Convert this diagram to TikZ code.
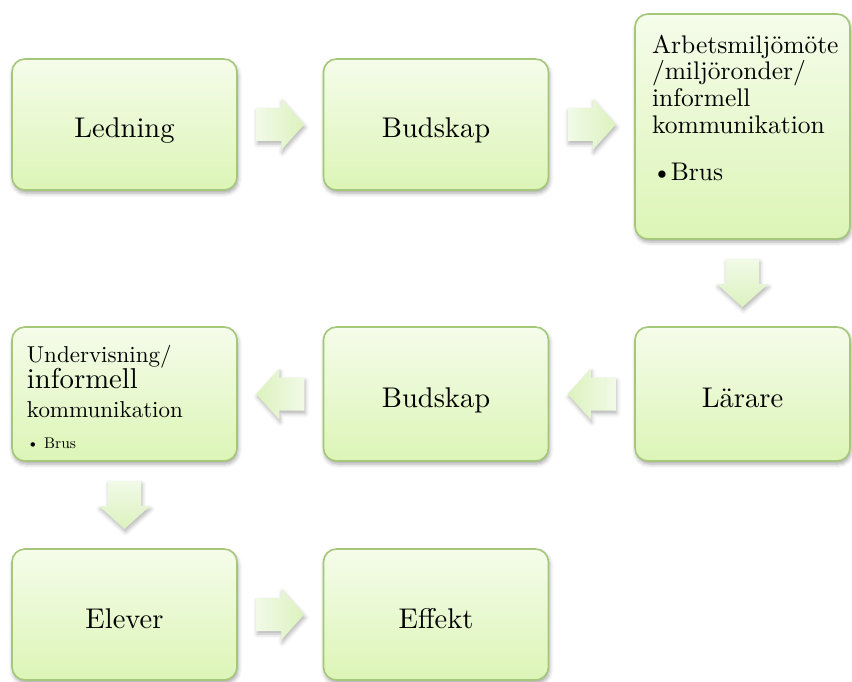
\documentclass[tikz,border=0pt]{standalone}
\usepackage{fontspec}
\setmainfont{lmroman10-regular.otf}
\usepackage{tikz}
\usetikzlibrary{positioning,calc,shadows,shadows.blur}
\definecolor{gronkant}{HTML}{A4C77A}
\definecolor{gronljus}{HTML}{F5FCEA}
\definecolor{gronmork}{HTML}{DCF5B6}
\definecolor{pilljus}{HTML}{F1FAE7}
\definecolor{pilmork}{HTML}{DCF2BE}
\newcommand{\tatrad}{\lineskiplimit -50pt\relax}
\tikzset{
  ruta/.style={rectangle, rounded corners=13pt, draw=gronkant, line width=1.6pt,
    top color=gronljus, bottom color=gronmork, inner sep=0pt, outer sep=0pt,
    blur shadow={shadow xshift=1pt, shadow yshift=-3pt, shadow opacity=35, shadow blur radius=4pt},
    font=\fontsize{28.5}{30}\selectfont, text height=27pt, text depth=0pt},
  rutatext/.style={anchor=north west, align=left, inner sep=0pt, outer sep=0pt},
  pilform/.style={blur shadow={shadow xshift=1pt, shadow yshift=-3pt, shadow opacity=30, shadow blur radius=4pt}},
  pilhoger/.pic={\path[pilform, left color=pilljus, right color=pilmork]
    (-24,16.5) -- (1,16.5) -- (1,25.5) -- (24,0) -- (1,-25.5) -- (1,-16.5) -- (-24,-16.5) -- cycle;},
  pilvanster/.pic={\path[pilform, left color=pilmork, right color=pilljus]
    (24,16.5) -- (-1,16.5) -- (-1,25.5) -- (-24,0) -- (-1,-25.5) -- (-1,-16.5) -- (24,-16.5) -- cycle;},
  pilner/.pic={\path[pilform, top color=pilljus, bottom color=pilmork]
    (-16.5,24) -- (16.5,24) -- (16.5,-1) -- (25.5,-1) -- (0,-24) -- (-25.5,-1) -- (-16.5,-1) -- cycle;},
}

\begin{document}
\begin{tikzpicture}[x=1pt, y=1pt]
    \useasboundingbox (0,0) rectangle (852,-682);
    % rutor med en rad text
    \foreach \n/\x/\y/\t in {led/124.5/-124.5/Ledning, bud/436/-124.5/Budskap,
                             elev/124.5/-614.5/Elever, eff/436/-614.5/Effekt}{
      \node[ruta, minimum width=225pt, minimum height=131pt] (\n) at (\x,\y) {\t};
    }
    \node[ruta, minimum width=225pt, minimum height=134pt] (bud2) at (436,-394) {Budskap};
    \node[ruta, minimum width=215pt, minimum height=134pt] (lar) at (742.5,-394) {Lärare};
    % rutor med flera rader
    \node[ruta, minimum width=215pt, minimum height=225pt] (arb) at (742.5,-126.5) {};
    \node[rutatext, font=\fontsize{25.5}{26.7}\selectfont\tatrad] (arbtext) at ($(arb.north west)+(17,-21)$)
      {Arbetsmiljömöte\\/miljöronder/\\informell\\kommunikation\\[20.3pt]\textbullet\kern-1pt Brus};
    \node[ruta, minimum width=225pt, minimum height=134pt] (und) at (124.5,-394) {};
    \node[rutatext, font=\fontsize{23}{26}\selectfont\tatrad] (undtext) at ($(und.north west)+(15,-18)$)
      {Undervisning/\\{\fontsize{28.7}{26}\selectfont informell}\\[3pt]kommunikation\\[5pt]{\fontsize{15.5}{26}\selectfont\textbullet\ Brus}};
    % pilar
    \pic at ($(led.east)!0.5!(bud.west)$) {pilhoger};
    \pic at ($(bud.east)!0.5!(bud.east-|arb.west)$) {pilhoger};
    \pic at ($(arb.south)!0.5!(lar.north)$) {pilner};
    \pic at ($(lar.west)!0.5!(bud2.east)$) {pilvanster};
    \pic at ($(bud2.west)!0.5!(und.east)$) {pilvanster};
    \pic at ($(und.south)!0.5!(elev.north)$) {pilner};
    \pic at ($(elev.east)!0.5!(eff.west)$) {pilhoger};
\end{tikzpicture}
\end{document}
